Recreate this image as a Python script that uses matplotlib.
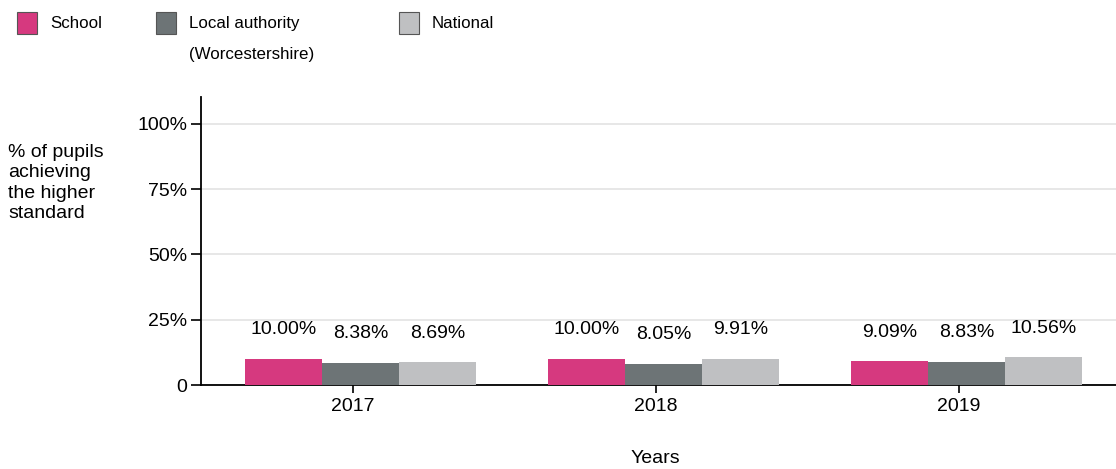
import matplotlib
matplotlib.use('Agg')
import matplotlib.pyplot as plt
from matplotlib.patches import Rectangle

plt.rcParams['font.family'] = ['Liberation Sans', 'DejaVu Sans']

years = ['2017', '2018', '2019']
series_names = ['School', 'Local authority\n(Worcestershire)', 'National']
school = [10.00, 10.00, 9.09]
local_authority = [8.38, 8.05, 8.83]
national = [8.69, 9.91, 10.56]
colors = ['#d6397f', '#6d7476', '#bfc0c2']

W, H = 1116, 469
fig = plt.figure(figsize=(W / 100, H / 100), dpi=100)
ax = fig.add_axes([201 / W, 1 - 385 / H, 915 / W, 288 / H])

bar_w = 0.254
start = 0.145
for i, vals in enumerate([school, local_authority, national]):
    for j, v in enumerate(vals):
        x = j + start + i * bar_w
        ax.bar(x, v, width=bar_w, align='edge', color=colors[i], zorder=3)
        ax.annotate(f'{v:.2f}%', (x + bar_w / 2, v), xytext=(0, 21),
                    textcoords='offset points', ha='center', va='center',
                    fontsize=14)

ax.set_xlim(0, 915 / 303)
ax.set_ylim(0, 110.3)
ax.set_yticks([0, 25, 50, 75, 100])
ax.set_yticklabels(['0', '25%', '50%', '75%', '100%'], fontsize=14)
ax.set_xticks([0.5, 1.5, 2.5])
ax.set_xticklabels(years, fontsize=14)
ax.tick_params(axis='y', length=7, width=1.2, color='black', pad=3)
ax.tick_params(axis='x', length=6, width=1.2, color='black', pad=3)
ax.yaxis.grid(True, color='#e3e3e3', linewidth=1.2, zorder=0)
for s in ['top', 'right']:
    ax.spines[s].set_visible(False)
for s in ['left', 'bottom']:
    ax.spines[s].set_linewidth(1.3)
    ax.spines[s].set_color('black')

fig.text(8 / W, 1 - 144 / H, '% of pupils\nachieving\nthe higher\nstandard',
         ha='left', va='top', fontsize=14, linespacing=1.25)
fig.text(655 / W, 1 - 458 / H, 'Years', ha='center', va='center', fontsize=14)

# legend
leg_x = [17, 156, 399]
for i, name in enumerate(series_names):
    x0 = leg_x[i] / W
    fig.patches.append(Rectangle((x0, 1 - 34 / H), 20 / W, 22 / H,
                                 transform=fig.transFigure, facecolor=colors[i],
                                 edgecolor='#555555', linewidth=0.8))
    fig.text(x0 + 33 / W, 1 - 16 / H, name, ha='left', va='top',
             fontsize=12.2, linespacing=2.3)

fig.savefig('out.png', dpi=100)
